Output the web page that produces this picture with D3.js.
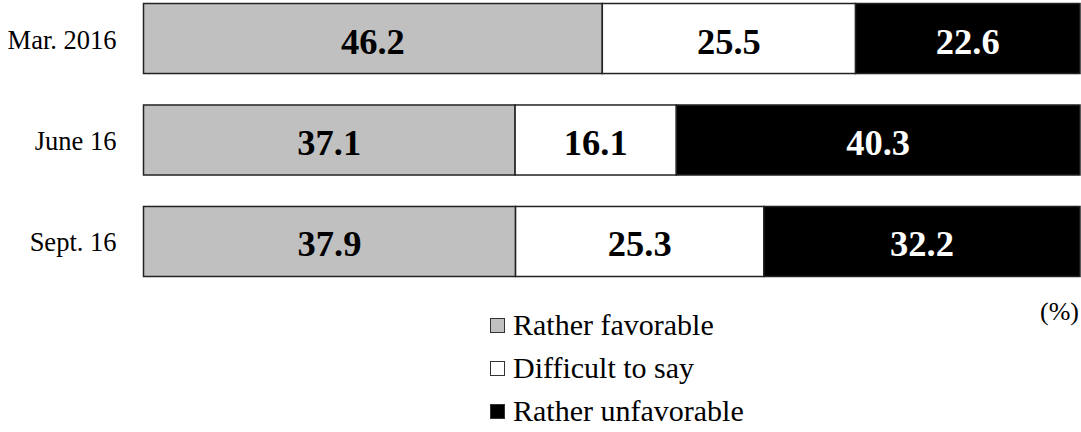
<!DOCTYPE html>
<html>
<head>
<meta charset="utf-8">
<script src="https://cdn.jsdelivr.net/npm/d3@7"></script>
<style>
    html, body { margin: 0; padding: 0; background: #fff; }
    svg { display: block; font-family: "Liberation Serif", "Times New Roman", serif; }
</style>
</head>
<body>
<svg id="chart" width="1081" height="432"></svg>
<script>
const categories = ['Mar. 2016', 'June 16', 'Sept. 16'];
const favorable = [46.2, 37.1, 37.9];
const difficult = [25.5, 16.1, 25.3];
const unfavorable = [22.6, 40.3, 32.2];
const seriesNames = ['Rather favorable', 'Difficult to say', 'Rather unfavorable'];

const COLORS = ['#c0c0c0', '#ffffff', '#000000'];
const TEXT_COLORS = ['#000', '#000', '#fff'];

const rows = categories.map((c, i) => ({
    cat: c, s0: favorable[i], s1: difficult[i], s2: unfavorable[i]
}));

const svg = d3.select('#chart');

// every bar runs over the full width, so stack as shares of the row total
const stack = d3.stack().keys(['s0', 's1', 's2']).offset(d3.stackOffsetExpand);
const layers = stack(rows);

const x = d3.scaleLinear().domain([0, 1]).range([143.5, 1080]);
const y = d3.scaleBand().domain(categories).range([3.5, 276.5]).paddingInner(0.31);

const groups = svg.selectAll('g.layer')
    .data(layers)
    .enter()
    .append('g')
    .attr('class', 'layer');

groups.selectAll('rect')
    .data(d => d)
    .enter()
    .append('rect')
    .attr('x', d => x(d[0]))
    .attr('y', d => y(d.data.cat))
    .attr('width', d => x(d[1]) - x(d[0]))
    .attr('height', y.bandwidth())
    .attr('fill', function () { return COLORS[d3.select(this.parentNode).datum().index]; })
    .attr('stroke', '#222')
    .attr('stroke-width', 1.5);

groups.each(function (layer) {
    d3.select(this).selectAll('text')
        .data(layer)
        .enter()
        .append('text')
        .attr('x', d => (x(d[0]) + x(d[1])) / 2)
        .attr('y', d => y(d.data.cat) + y.bandwidth() / 2 + 15)
        .attr('text-anchor', 'middle')
        .attr('font-size', 36.5)
        .attr('font-weight', 'bold')
        .attr('fill', TEXT_COLORS[layer.index])
        .text(d => d.data[layer.key].toFixed(1));
});

// category labels
svg.selectAll('text.cat')
    .data(categories)
    .enter()
    .append('text')
    .attr('class', 'cat')
    .attr('x', 116.5)
    .attr('y', d => y(d) + y.bandwidth() / 2 + 10)
    .attr('text-anchor', 'end')
    .attr('font-size', 26.5)
    .text(d => d);

// unit
svg.append('text')
    .attr('x', 1079)
    .attr('y', 320)
    .attr('text-anchor', 'end')
    .attr('font-size', 26)
    .text('(%)');

// legend
const legend = svg.selectAll('g.legend')
    .data(seriesNames)
    .enter()
    .append('g')
    .attr('class', 'legend')
    .attr('transform', (d, i) => 'translate(490,' + (335 + i * 43) + ')');

legend.append('rect')
    .attr('x', 0.5)
    .attr('y', -16.5)
    .attr('width', 14)
    .attr('height', 14)
    .attr('fill', (d, i) => COLORS[i])
    .attr('stroke', '#333')
    .attr('stroke-width', 1);

legend.append('text')
    .attr('x', 23)
    .attr('y', 0)
    .attr('font-size', 30)
    .text(d => d);
</script>
</body>
</html>
